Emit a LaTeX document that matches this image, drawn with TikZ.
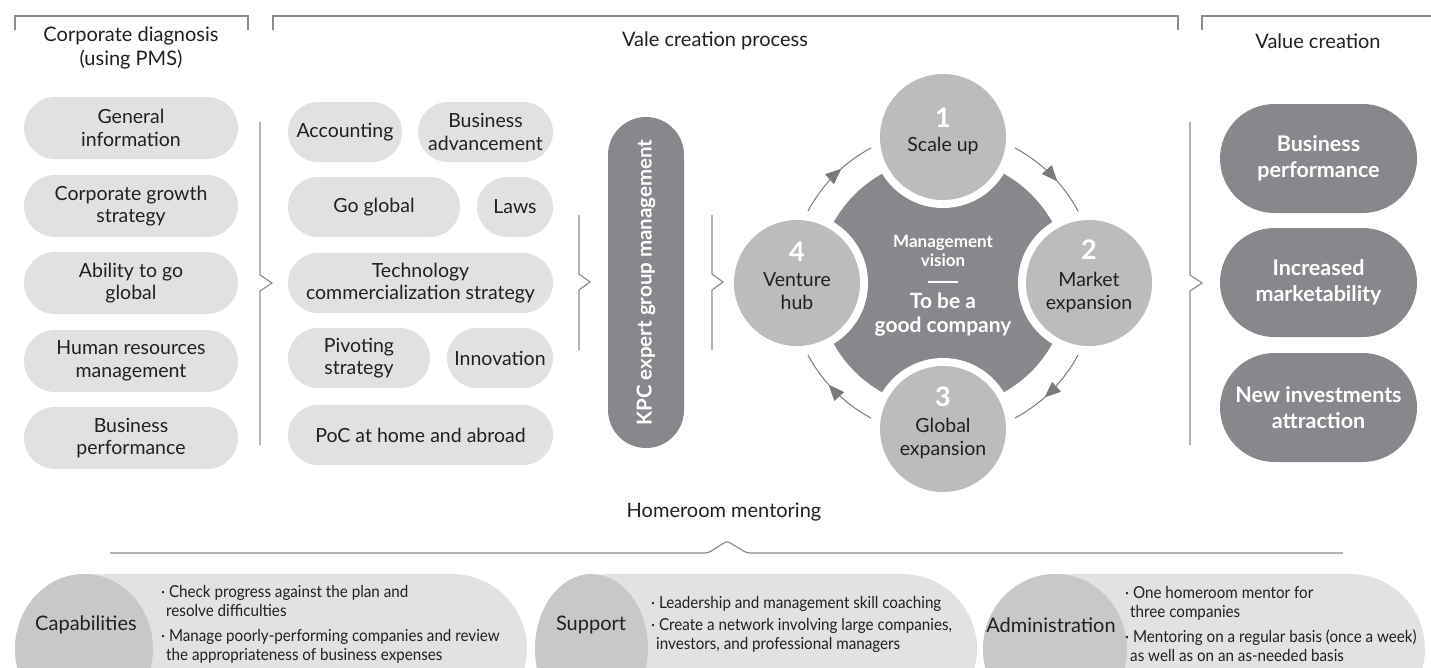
\documentclass[tikz,border=0pt]{standalone}
\usepackage{fontspec}
\setmainfont{Lato}
\newfontfamily\narrowfont[FakeStretch=0.92]{Lato}
\usetikzlibrary{decorations.markings,arrows.meta,shapes.geometric}
\definecolor{pillc}{HTML}{E1E1E1}
\definecolor{darkc}{HTML}{87888C}
\definecolor{circc}{HTML}{BCBCBD}
\definecolor{bcircc}{HTML}{C9C8C9}
\definecolor{bpillc}{HTML}{E2E2E2}
\definecolor{linec}{HTML}{8C8C8C}
\definecolor{arrc}{HTML}{7A7A7A}
\definecolor{txt}{HTML}{231F20}
\tikzset{
 brk/.style={draw=linec, line width=1.2pt},
 lpill/.style={fill=pillc, rounded corners=31pt, minimum height=62pt, inner sep=0pt, align=center, text=txt, font=\fontsize{19.5}{22.5}\selectfont},
 mpill/.style={lpill, rounded corners=30pt, minimum height=60pt},
 dpill/.style={fill=darkc, rounded corners=54.5pt, minimum height=109pt, minimum width=197pt, inner sep=0pt, align=center, text=white, font=\bfseries\fontsize{21.5}{26.5}\selectfont},
 hdr/.style={align=center, text=txt, font=\fontsize{20}{23.5}\selectfont},
 cyc/.style={circle, fill=circc, minimum size=126pt, inner sep=0pt},
 ring/.style={circle, fill=white, minimum size=142pt, inner sep=0pt},
 num/.style={text=white, font=\bfseries\fontsize{27}{27}\selectfont, inner sep=0pt},
 ctext/.style={align=center, text=txt, font=\fontsize{19.5}{23}\selectfont, inner sep=0pt},
 cycarrow/.style={color=arrc, line width=1pt, postaction={decorate}, decoration={markings, mark=at position 0.6 with {\arrow{Triangle[length=16pt,width=13pt]}}}},
 bpill/.style={fill=bpillc, rounded corners=75pt, minimum height=150pt, inner sep=0pt},
 bcirc/.style={ellipse, fill=bcircc, minimum height=150pt, inner sep=0pt},
 btitle/.style={text=txt, font=\fontsize{20}{23}\selectfont, inner sep=0pt},
 bullets/.style={anchor=west, align=left, text=txt, inner sep=0pt, font=\narrowfont\fontsize{16.5}{19}\selectfont},
}
\begin{document}
\begin{tikzpicture}[x=1pt,y=-1pt]
\useasboundingbox (0,0) rectangle (1431,667);
\clip (0,0) rectangle (1431,667);

% header brackets
\draw[brk] (15,30) -- (15,16) -- (248,16) -- (248,30);
\draw[brk] (273,30) -- (273,16) -- (1178,16) -- (1178,30);
\draw[brk] (1202,30) -- (1202,16) -- (1440,16);

\node[hdr] (h1) at (131,48) {Corporate diagnosis\\(using PMS)};
\node[hdr] (h2) at (715,41) {Vale creation process};
\node[hdr] (h3) at (1318,41) {Value creation};

% left column
\node[lpill, minimum width=214pt] (l1) at (131,128) {General\\information};
\node[lpill, minimum width=214pt] (l2) at (131,206) {Corporate growth\\strategy};
\node[lpill, minimum width=214pt] (l3) at (131,283) {Ability to go\\global};
\node[lpill, minimum width=214pt] (l4) at (131,361) {Human resources\\management};
\node[lpill, minimum width=214pt] (l5) at (131,438) {Business\\performance};

\draw[brk] (260,122) -- (260,275) -- (272,283) -- (260,291) -- (260,445);

% middle column
\node[mpill, minimum width=114pt] (m1) at (345,132) {Accounting};
\node[mpill, minimum width=135pt] (m2) at (485.5,132) {Business\\advancement};
\node[mpill, minimum width=172pt] (m3) at (374,207) {Go global};
\node[mpill, minimum width=76pt] (m4) at (515,207) {Laws};
\node[mpill, minimum width=265pt] (m5) at (420.5,283) {Technology\\commercialization strategy};
\node[mpill, minimum width=142pt] (m6) at (359,358) {Pivoting\\strategy};
\node[mpill, minimum width=106pt] (m7) at (500,358) {Innovation};
\node[mpill, minimum width=265pt] (m8) at (420.5,435) {PoC at home and abroad};

\draw[brk] (579,215) -- (579,274) -- (590,282) -- (579,290) -- (579,350);

% KPC
\node[fill=darkc, rounded corners=38pt, minimum width=331pt, minimum height=76pt, rotate=90, text=white, font=\bfseries\fontsize{20.5}{20.5}\selectfont, inner sep=0pt] (kpc) at (646,282.5) {KPC expert group management};

\draw[brk] (712,215) -- (712,274) -- (723,282) -- (712,290) -- (712,350);

% cycle
\coordinate (cc) at (943,283);
\fill[darkc] (cc) circle (125);
\node[ring] (r1) at (943,137) {};
\node[ring] (r2) at (1089,283) {};
\node[ring] (r3) at (943,429) {};
\node[ring] (r4) at (797,283) {};
\node[cyc] (c1) at (943,137) {};
\node[cyc] (c2) at (1089,283) {};
\node[cyc] (c3) at (943,429) {};
\node[cyc] (c4) at (797,283) {};

\draw[cycarrow] (cc) ++(-62:153) arc[start angle=-62, end angle=-28, radius=153];
\draw[cycarrow] (cc) ++(28:153) arc[start angle=28, end angle=62, radius=153];
\draw[cycarrow] (cc) ++(118:153) arc[start angle=118, end angle=152, radius=153];
\draw[cycarrow] (cc) ++(208:153) arc[start angle=208, end angle=242, radius=153];

\node[num] (n1) at (943,118) {1};
\node[ctext] (t1) at (943,146) {Scale up};
\node[num] (n2) at (1089,250) {2};
\node[ctext] (t2) at (1089,292) {Market\\expansion};
\node[num] (n3) at (943,397) {3};
\node[ctext] (t3) at (943,438.5) {Global\\expansion};
\node[num] (n4) at (797,252) {4};
\node[ctext] (t4) at (797,291.5) {Venture\\hub};

\node[align=center, text=white, inner sep=0pt, font=\bfseries\fontsize{17}{18.5}\selectfont] (mv) at (943,251) {Management\\vision};
\coordinate (dl) at (928,282);
\coordinate (dr) at (958,282);
\draw[white, line width=1.5pt] (dl) -- (dr);
\node[align=center, text=white, inner sep=0pt, font=\bfseries\fontsize{21}{23.5}\selectfont] (gc) at (943,314.5) {To be a\\good company};

\draw[brk] (1190,122) -- (1190,275) -- (1202,283) -- (1190,291) -- (1190,445);

% value creation
\node[dpill] (v1) at (1318.5,158.5) {Business\\performance};
\node[dpill] (v2) at (1318.5,282.5) {Increased\\marketability};
\node[dpill] (v3) at (1318.5,407.5) {New investments\\attraction};

% homeroom
\node[hdr] (hm) at (724,512) {Homeroom mentoring};
\draw[brk, rounded corners=3pt] (110,553) -- (708,553) -- (727,541) -- (747,553) -- (1343,553);

% bottom row
\node[bpill, minimum width=512pt] (bp1) at (271,649) {};
\node[bcirc, minimum width=138pt] (bc1) at (84,649) {};
\node[btitle] (bt1) at (86,625) {Capabilities};
\node[bullets] (bb1) at (161,624) {· Check progress against the plan and\\ \hspace*{5pt}resolve difficulties\\[6pt]· Manage poorly-performing companies and review\\ \hspace*{5pt}the appropriateness of business expenses};

\node[bpill, minimum width=442pt] (bp2) at (756,649) {};
\node[bcirc, minimum width=113pt] (bc2) at (591.5,649) {};
\node[btitle] (bt2) at (591,625) {Support};
\node[bullets] (bb2) at (651,624) {· Leadership and management skill coaching\\[3pt]· Create a network involving large companies,\\ \hspace*{5pt}investors, and professional managers};

\node[bpill, minimum width=442pt] (bp3) at (1204,649) {};
\node[bcirc, minimum width=144pt] (bc3) at (1055,649) {};
\node[btitle] (bt3) at (1051,625) {Administration};
\node[bullets] (bb3) at (1125,624) {· One homeroom mentor for\\ \hspace*{5pt}three companies\\[6pt]· Mentoring on a regular basis (once a week)\\ \hspace*{5pt}as well as on an as-needed basis};
\end{tikzpicture}
\end{document}
